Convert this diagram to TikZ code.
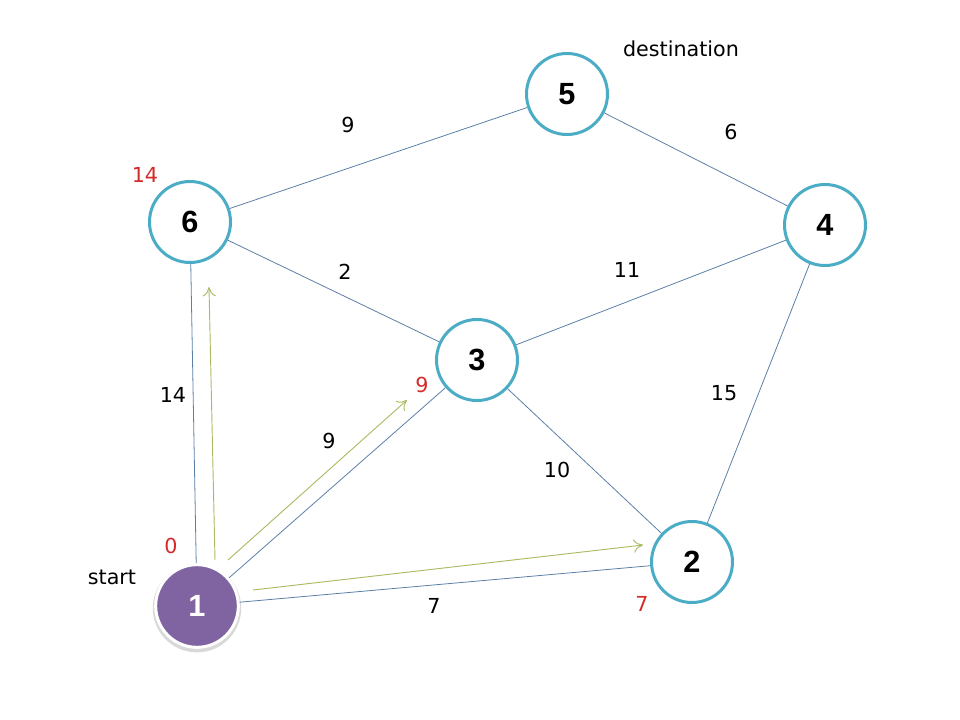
\documentclass[tikz,border=0pt]{standalone}
\usepackage{fontspec}
\setmainfont{DejaVu Sans}
\newfontfamily\numfont{Liberation Sans}
\usepackage{tikz}
\usetikzlibrary{arrows.meta}
\usetikzlibrary{shadows}
\definecolor{ringteal}{HTML}{4BACC6}
\definecolor{startpurple}{HTML}{8064A2}
\definecolor{edgeblue}{HTML}{5C7FA8}
\definecolor{pathgreen}{HTML}{A9BC62}
\definecolor{costred}{HTML}{D42A2A}
\tikzset{>={To[length=7pt,width=10pt]}}
\tikzset{
  vertex/.style={circle, draw=ringteal, line width=2.25pt, fill=white, minimum size=60.75pt, inner sep=0pt, font=\numfont\bfseries\fontsize{23}{23}\selectfont},
  startvertex/.style={vertex, draw=white, fill=startpurple, text=white, minimum size=62pt, drop shadow={shadow xshift=0pt, shadow yshift=-1.5pt, shadow scale=1.07, opacity=0.3}},
  edge/.style={draw=edgeblue, line width=0.6pt},
  tree/.style={->, draw=pathgreen, line width=0.7pt},
  weight/.style={font=\fontsize{15.5}{15.5}\selectfont},
  cost/.style={weight, text=costred}
}

\begin{document}
\begin{tikzpicture}[x=0.75pt, y=-0.75pt]
            \useasboundingbox (0, 0) rectangle (960, 720);
            \node[startvertex] (v1) at (197, 606) {1};
            \node[vertex] (v2) at (692, 562) {2};
            \node[vertex] (v3) at (477, 360) {3};
            \node[vertex] (v4) at (825, 225) {4};
            \node[vertex] (v5) at (567, 94) {5};
            \node[vertex] (v6) at (190, 222) {6};
            \draw[edge] (v1) -- (v6);
            \draw[edge] (v1) -- (v3);
            \draw[edge] (v1) -- (v2);
            \draw[edge] (v6) -- (v5);
            \draw[edge] (v6) -- (v3);
            \draw[edge] (v3) -- (v4);
            \draw[edge] (v3) -- (v2);
            \draw[edge] (v5) -- (v4);
            \draw[edge] (v2) -- (v4);
            % shortest path tree
            \coordinate (t6a) at (215, 560);
            \coordinate (t6b) at (209, 287);
            \coordinate (t3a) at (228, 560);
            \coordinate (t3b) at (407, 400);
            \coordinate (t2a) at (253, 590);
            \coordinate (t2b) at (643, 545);
            \draw[tree] (t6a) -- (t6b);
            \draw[tree] (t3a) -- (t3b);
            \draw[tree] (t2a) -- (t2b);
            \node[weight] (w65) at (348, 125) {9};
            \node[weight] (w54) at (731, 132) {6};
            \node[weight] (w63) at (345, 272) {2};
            \node[weight] (w34) at (627, 270) {11};
            \node[weight] (w16) at (173, 395) {14};
            \node[weight] (w13) at (329, 441) {9};
            \node[weight] (w32) at (557, 470) {10};
            \node[weight] (w42) at (724, 393) {15};
            \node[weight] (w12) at (434, 606) {7};
            \node[cost] (c6) at (145, 175) {14};
            \node[cost] (c3) at (422, 385) {9};
            \node[cost] (c1) at (171, 546) {0};
            \node[cost] (c2) at (642, 604) {7};
            \node[weight] (lstart) at (112, 577) {start};
            \node[weight] (ldest) at (681, 49) {destination};
        \end{tikzpicture}
\end{document}
